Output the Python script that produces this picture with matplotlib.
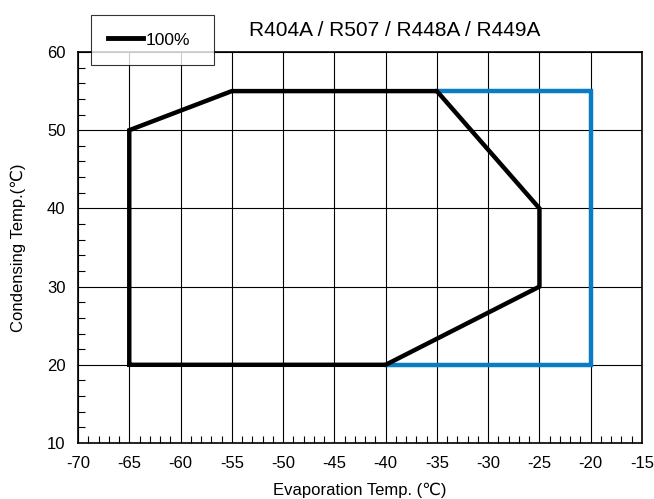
import matplotlib
matplotlib.use("Agg")
import matplotlib.pyplot as plt
from matplotlib.ticker import MultipleLocator
from matplotlib.lines import Line2D

plt.rcParams['font.family'] = ['Liberation Sans', 'DejaVu Sans']
plt.rcParams['axes.unicode_minus'] = False

# Data
black_x = [-65, -65, -55, -35, -25, -25, -40, -65]
black_y = [20, 50, 55, 55, 40, 30, 20, 20]
blue_x = [-35, -20, -20, -40]
blue_y = [55, 55, 20, 20]
title = "R404A / R507 / R448A / R449A"
legend_label = "100%"

fig = plt.figure(figsize=(6.54, 4.99), dpi=100)
ax = fig.add_axes([78/654, 1-443/499, (642-78)/654, (443-52)/499])

ax.set_xlim(-70, -15)
ax.set_ylim(10, 60)
ax.xaxis.set_major_locator(MultipleLocator(5))
ax.xaxis.set_minor_locator(MultipleLocator(1))
ax.yaxis.set_major_locator(MultipleLocator(10))
ax.yaxis.set_minor_locator(MultipleLocator(2))
ax.grid(True, which='major', color='black', linewidth=0.8)
ax.set_axisbelow(True)
ax.tick_params(which='both', direction='in', top=False, right=False, labelsize=12, color='black')
ax.tick_params(which='major', length=0, pad=9)
ax.tick_params(which='minor', length=5, width=0.8)
for s in ax.spines.values():
    s.set_linewidth(1.2)

ax.plot(blue_x, blue_y, color='#0a7cc4', linewidth=3.2, solid_joinstyle='miter', zorder=3)
ax.plot(black_x, black_y, color='black', linewidth=3.2, solid_joinstyle='miter', zorder=4)

ax.set_xlabel("Evaporation Temp. (℃)", fontsize=12, labelpad=9)
ax.set_ylabel("Condensing Temp.(℃)", fontsize=12, labelpad=15)

fig.text(395/654, 1-30/499, title, fontsize=15, ha='center', va='center')

handle = Line2D([0], [0], color='black', linewidth=3.5)
leg = fig.legend([handle], [legend_label], loc='upper left',
                 bbox_to_anchor=(91/654, 1-15/499 - 0.01, 123/654, 0.01), mode='expand',
                 frameon=True, fancybox=False,
                 edgecolor='black', fontsize=12.5, handlelength=2.0, handletextpad=0.15,
                 borderpad=1.0, borderaxespad=0)
leg.get_frame().set_linewidth(0.8)

fig.savefig("out.png", dpi=100)
